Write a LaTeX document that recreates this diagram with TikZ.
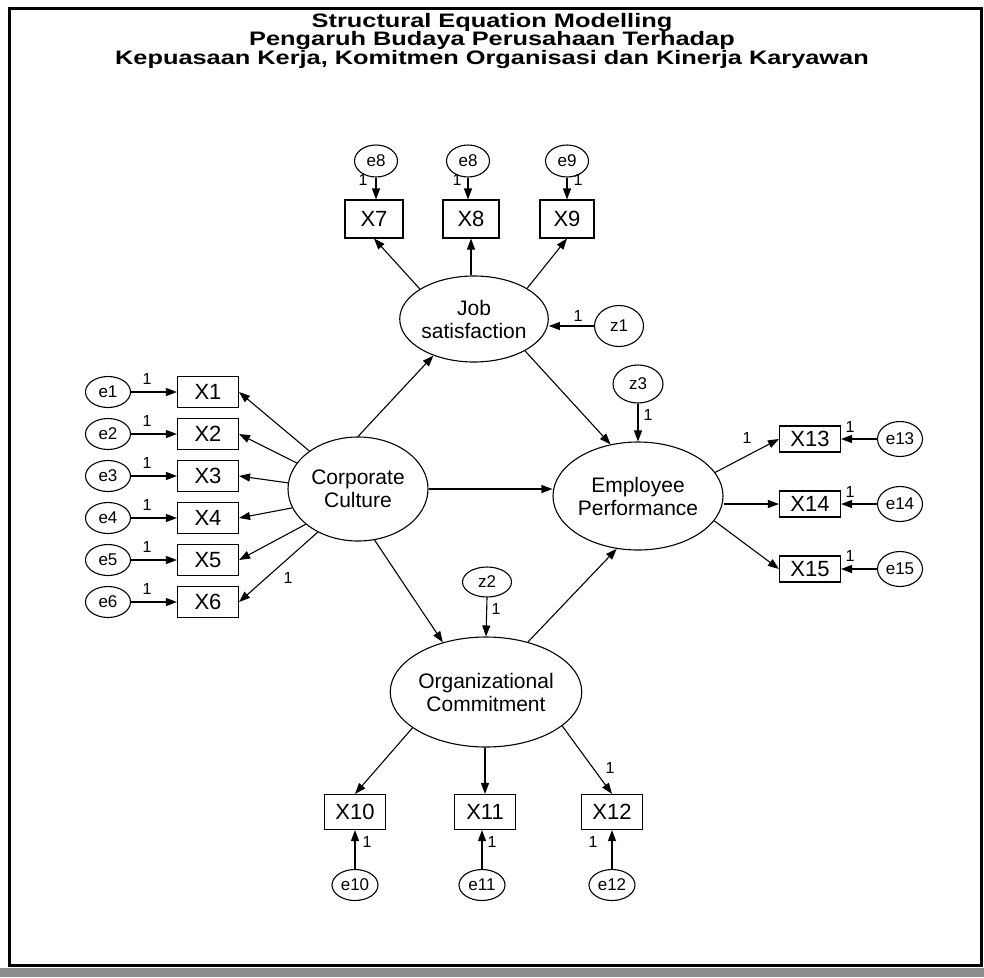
\documentclass[tikz,border=0pt]{standalone}
\usepackage{fontspec}
\setmainfont{Liberation Sans}
\usetikzlibrary{arrows.meta,shapes.geometric}
\begin{document}
\begin{tikzpicture}[x=1pt,y=-1pt,
  lat/.style={draw,ellipse,line width=1.1pt,inner sep=0pt,align=center,
    font=\fontsize{21}{23}\selectfont},
  err/.style={draw,ellipse,line width=1.1pt,inner sep=0pt,
    font=\fontsize{17}{17}\selectfont},
  obs/.style={draw,rectangle,line width=1.1pt,inner sep=0pt,minimum width=61pt,
    font=\fontsize{22}{22}\selectfont},
  arr/.style={line width=1.1pt,-{Triangle[length=11pt,width=8pt]}},
  one/.style={font=\fontsize{16}{16}\selectfont,inner sep=0pt},
  titlebox/.style={font=\bfseries\fontsize{19.5}{18.5}\selectfont,inner sep=0pt,align=center},
]
\useasboundingbox (0,0) rectangle (984,977);
\draw[line width=3pt] (9,8) rectangle (981,965);
% scanner strip below the frame
\fill[black!45] (0,968) rectangle (984,977);

% title
\node[titlebox,anchor=north] (title) at (492,13)
  {\scalebox{1.3}[1]{Structural Equation Modelling}\\
   \scalebox{1.3}[1]{Pengaruh Budaya Perusahaan Terhadap}\\
   \scalebox{1.3}[1]{Kepuasaan Kerja, Komitmen Organisasi dan Kinerja Karyawan}};

% latent variables
\node[lat,minimum width=144pt,minimum height=86pt] (job) at (474,319) {Job\\satisfaction};
\node[lat,minimum width=140pt,minimum height=104pt] (cc) at (358,489) {Corporate\\Culture};
\node[lat,minimum width=164pt,minimum height=108pt] (ep) at (638,496) {Employee\\Performance};
\node[lat,minimum width=176pt,minimum height=110pt] (oc) at (486,692) {Organizational\\Commitment};

% disturbances
\node[err,minimum width=49pt,minimum height=41pt] (z1) at (619,326) {z1};
\node[err,minimum width=50pt,minimum height=38pt] (z3) at (638,384) {z3};
\node[err,minimum width=49pt,minimum height=30pt] (z2) at (487,582) {z2};

% indicators of job satisfaction
\node[obs,minimum width=58pt,minimum height=38pt] (x7) at (374,219) {X7};
\node[obs,minimum width=56pt,minimum height=38pt] (x8) at (471,219) {X8};
\node[obs,minimum width=54pt,minimum height=38pt] (x9) at (567,219) {X9};
\node[err,minimum width=43pt,minimum height=32pt] (e7) at (376,161) {e8};
\node[err,minimum width=43pt,minimum height=32pt] (e8) at (468,161) {e8};
\node[err,minimum width=43pt,minimum height=32pt] (e9) at (567,161) {e9};

% indicators of corporate culture
\foreach \i in {1,...,6} {
  \node[obs,minimum height=31pt] (x\i) at (208,{392+42*(\i-1)}) {X\i};
  \node[err,minimum width=45pt,minimum height=31pt] (e\i) at (108,{392+42*(\i-1)}) {e\i};
}

% indicators of employee performance
\node[obs,minimum height=26pt] (x13) at (810,439) {X13};
\node[obs,minimum height=26pt] (x14) at (810,504) {X14};
\node[obs,minimum height=26pt] (x15) at (810,569) {X15};
\node[err,minimum width=45pt,minimum height=35pt] (e13) at (900,439) {e13};
\node[err,minimum width=45pt,minimum height=35pt] (e14) at (900,504) {e14};
\node[err,minimum width=45pt,minimum height=35pt] (e15) at (900,569) {e15};

% indicators of organizational commitment
\node[obs,minimum height=35pt] (x10) at (355,812) {X10};
\node[obs,minimum height=35pt] (x11) at (485,812) {X11};
\node[obs,minimum height=35pt] (x12) at (612,812) {X12};
\node[err,minimum width=46pt,minimum height=31pt] (e10) at (355,885) {e10};
\node[err,minimum width=46pt,minimum height=31pt] (e11) at (482,885) {e11};
\node[err,minimum width=46pt,minimum height=31pt] (e12) at (612,885) {e12};

% structural paths
\draw[arr] (cc.north) -- (job.222);
\draw[arr] (cc.east) -- (cc.east -| ep.west);
\draw[arr] (cc.288) -- (oc.131);
\draw[arr] (job.328) -- (ep.118);
\draw[arr] (oc.50) -- (ep.248);
\draw[arr] (z1.west) -- (job.east |- z1.west);
\draw[arr] (z3.south) -- (ep.north);
\draw[arr] (z2.south) -- (oc.north);

% measurement paths
\draw[arr] (job.151) -- (x7.south);
\draw[arr] (job.north -| x8.south) -- (x8.south);
\draw[arr] (job.30) -- (x9.south);
\draw[arr] (cc.142) -- (x1.east);
\draw[arr] (cc.157) -- (x2.east);
\draw[arr] (cc.175) -- (x3.east);
\draw[arr] (cc.196) -- (x4.east);
\draw[arr] (cc.214) -- (x5.east);
\draw[arr] (cc.227) -- (x6.east);
\draw[arr] (ep.17) -- (x13.west);
\draw[arr] (ep.east |- x14.west) -- (x14.west);
\draw[arr] (ep.342) -- (x15.west);
\draw[arr] (oc.206) -- (x10.north);
\draw[arr] (oc.south -| x11.north) -- (x11.north);
\draw[arr] (oc.336) -- (x12.north);

% error paths
\draw[arr] (e7.south) -- (x7.north -| e7.south);
\draw[arr] (e8.south) -- (x8.north -| e8.south);
\draw[arr] (e9.south) -- (x9.north);
\foreach \i in {1,...,6} \draw[arr] (e\i.east) -- (x\i.west);
\draw[arr] (e13.west) -- (x13.east);
\draw[arr] (e14.west) -- (x14.east);
\draw[arr] (e15.west) -- (x15.east);
\draw[arr] (e10.north) -- (x10.south);
\draw[arr] (e11.north) -- (x11.south -| e11.north);
\draw[arr] (e12.north) -- (x12.south);

% regression weights fixed to 1
\foreach \i in {1,...,6} \node[one] at (147,{379+42*(\i-1)}) {1};
\node[one] at (363,180) {1};
\node[one] at (457,180) {1};
\node[one] at (578,180) {1};
\node[one] at (578,316) {1};
\node[one] at (648,415) {1};
\node[one] at (496,609) {1};
\node[one] at (288,578) {1};
\node[one] at (747,438) {1};
\node[one] at (850,427) {1};
\node[one] at (850,492) {1};
\node[one] at (850,556) {1};
\node[one] at (610,768) {1};
\node[one] at (367,842) {1};
\node[one] at (492,842) {1};
\node[one] at (593,842) {1};
\end{tikzpicture}
\end{document}
